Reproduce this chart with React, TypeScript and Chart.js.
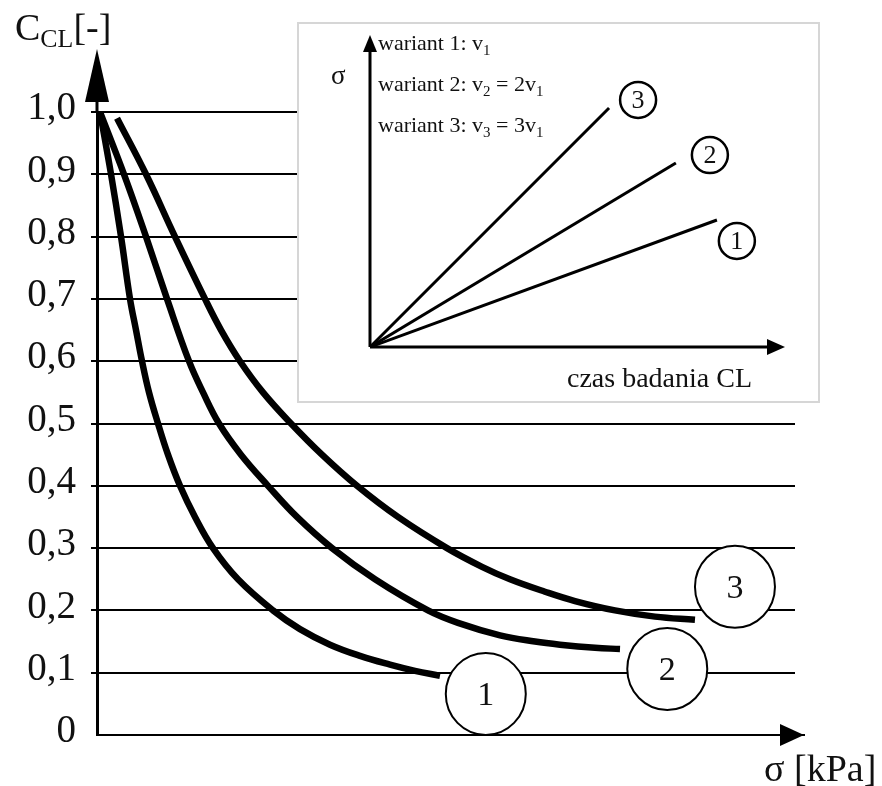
import React, { useEffect, useRef } from "react";
import { Chart, registerables } from "chart.js";

Chart.register(...registerables);

const SERIF = '"Liberation Serif", "Times New Roman", Times, serif';

// ---- main chart data (x: relative sigma 0..100, y: C_CL) ----
const yTickStep = 0.1;
const curve1X = [0.43, 2.01, 3.44, 4.73, 5.59, 6.45, 7.45, 8.74, 10.17, 11.89, 14.04, 16.62, 20.2, 25.21, 29.08, 33.38, 37.68, 41.98, 45.56, 49.14];
const curve1Y = [1.0, 0.9, 0.8, 0.7, 0.65, 0.6, 0.55, 0.5, 0.45, 0.4, 0.35, 0.3, 0.25, 0.2, 0.17, 0.145, 0.127, 0.113, 0.103, 0.095];
const curve2X = [0.43, 3.87, 7.02, 10.03, 13.18, 15.19, 17.48, 20.63, 24.5, 28.65, 33.67, 39.83, 47.42, 51.72, 57.74, 62.75, 66.33, 71.35, 74.93];
const curve2Y = [1.0, 0.9, 0.8, 0.7, 0.6, 0.55, 0.5, 0.45, 0.4, 0.35, 0.3, 0.25, 0.2, 0.18, 0.16, 0.15, 0.145, 0.14, 0.138];
const curve3X = [2.87, 7.02, 11.17, 15.47, 17.77, 20.49, 23.78, 27.79, 32.23, 37.25, 43.12, 50.14, 55.16, 59.17, 64.18, 68.48, 74.21, 79.94, 85.67];
const curve3Y = [0.99, 0.9, 0.8, 0.7, 0.65, 0.6, 0.55, 0.5, 0.45, 0.4, 0.35, 0.3, 0.27, 0.25, 0.23, 0.215, 0.2, 0.19, 0.185];
const curveLabels = ["1", "2", "3"];
const curveLabelX = [55.7, 81.7, 91.4];
const curveLabelY = [0.066, 0.106, 0.238];

// ---- inset data (schematic sigma vs time) ----
const insetLabels = ["1", "2", "3"];
const insetEndX = [83.6, 73.7, 57.6];
const insetEndY = [40.7, 59.0, 76.6];
const insetLabelX = [88.4, 81.9, 64.6];
const insetLabelY = [34.0, 61.5, 79.2];

const toPoints = (xs: number[], ys: number[]) => xs.map((x, i) => ({ x, y: ys[i] }));

const mainDecor = {
  id: "mainDecor",
  afterDatasetsDraw(chart: any) {
    const { ctx, chartArea, scales } = chart;
    const x0 = chartArea.left;
    const y0 = chartArea.bottom;
    ctx.save();
    ctx.fillStyle = "#000";
    ctx.strokeStyle = "#000";
    // y axis extension + arrow
    ctx.lineWidth = 3;
    ctx.beginPath();
    ctx.moveTo(x0, chartArea.top);
    ctx.lineTo(x0, chartArea.top - 14);
    ctx.stroke();
    ctx.beginPath();
    ctx.moveTo(x0, chartArea.top - 63);
    ctx.lineTo(x0 - 12, chartArea.top - 10);
    ctx.lineTo(x0 + 12, chartArea.top - 10);
    ctx.closePath();
    ctx.fill();
    // x axis extension + arrow
    ctx.lineWidth = 2;
    ctx.beginPath();
    ctx.moveTo(chartArea.right, y0);
    ctx.lineTo(chartArea.right + 10, y0);
    ctx.stroke();
    ctx.beginPath();
    ctx.moveTo(chartArea.right + 9, y0);
    ctx.lineTo(chartArea.right - 15, y0 - 11);
    ctx.lineTo(chartArea.right - 15, y0 + 11);
    ctx.closePath();
    ctx.fill();
    // numbered circles
    curveLabels.forEach((lab, i) => {
      const cx = scales.x.getPixelForValue(curveLabelX[i]);
      const cy = scales.y.getPixelForValue(curveLabelY[i]);
      ctx.beginPath();
      ctx.ellipse(cx, cy, 40, 41, 0, 0, Math.PI * 2);
      ctx.fillStyle = "#fff";
      ctx.fill();
      ctx.lineWidth = 2;
      ctx.strokeStyle = "#000";
      ctx.stroke();
      ctx.fillStyle = "#111";
      ctx.font = `34px ${SERIF}`;
      ctx.textAlign = "center";
      ctx.textBaseline = "middle";
      ctx.fillText(lab, cx, cy + 2);
    });
    ctx.restore();
  },
};

const insetDecor = {
  id: "insetDecor",
  afterDatasetsDraw(chart: any) {
    const { ctx, chartArea, scales } = chart;
    const x0 = chartArea.left;
    const y0 = chartArea.bottom;
    ctx.save();
    ctx.fillStyle = "#000";
    ctx.strokeStyle = "#000";
    ctx.lineWidth = 3;
    ctx.beginPath();
    ctx.moveTo(x0, y0);
    ctx.lineTo(x0, chartArea.top + 12);
    ctx.moveTo(x0, y0);
    ctx.lineTo(chartArea.right - 12, y0);
    ctx.stroke();
    ctx.beginPath();
    ctx.moveTo(x0, chartArea.top);
    ctx.lineTo(x0 - 7, chartArea.top + 17);
    ctx.lineTo(x0 + 7, chartArea.top + 17);
    ctx.closePath();
    ctx.fill();
    ctx.beginPath();
    ctx.moveTo(chartArea.right, y0);
    ctx.lineTo(chartArea.right - 18, y0 - 8);
    ctx.lineTo(chartArea.right - 18, y0 + 8);
    ctx.closePath();
    ctx.fill();
    insetLabels.forEach((lab, i) => {
      const cx = scales.x.getPixelForValue(insetLabelX[i]);
      const cy = scales.y.getPixelForValue(insetLabelY[i]);
      ctx.beginPath();
      ctx.arc(cx, cy, 18, 0, Math.PI * 2);
      ctx.fillStyle = "#fff";
      ctx.fill();
      ctx.lineWidth = 2.5;
      ctx.strokeStyle = "#000";
      ctx.stroke();
      ctx.fillStyle = "#111";
      ctx.font = `26px ${SERIF}`;
      ctx.textAlign = "center";
      ctx.textBaseline = "middle";
      ctx.fillText(lab, cx, cy + 1);
    });
    ctx.restore();
  },
};

const Txt = ({ left, top, size, children }: any) => (
  <div
    style={{
      position: "absolute",
      left,
      top,
      fontSize: size,
      lineHeight: 1,
      fontFamily: SERIF,
      color: "#111",
      whiteSpace: "nowrap",
    }}
  >
    {children}
  </div>
);

const Sub = ({ children, drop = "0.35em" }: any) => (
  <span style={{ fontSize: "0.68em", position: "relative", top: drop }}>{children}</span>
);

export default function App() {
  const mainRef = useRef<HTMLCanvasElement | null>(null);
  const insetRef = useRef<HTMLCanvasElement | null>(null);

  useEffect(() => {
    const lineStyle = {
      borderColor: "#000",
      borderWidth: 6.5,
      pointRadius: 0,
      tension: 0.4,
      borderCapStyle: "butt" as const,
      borderJoinStyle: "round" as const,
      fill: false,
    };
    const main = new Chart(mainRef.current as HTMLCanvasElement, {
      type: "line",
      data: {
        datasets: [
          { ...lineStyle, label: "1", data: toPoints(curve1X, curve1Y) },
          { ...lineStyle, label: "2", data: toPoints(curve2X, curve2Y) },
          { ...lineStyle, label: "3", data: toPoints(curve3X, curve3Y) },
        ],
      },
      options: {
        responsive: false,
        animation: false,
        events: [],
        layout: { padding: { left: 0, right: 87, top: 112, bottom: 0 } },
        plugins: { legend: { display: false }, tooltip: { enabled: false } },
        scales: {
          x: {
            type: "linear",
            min: 0,
            max: 100,
            ticks: { display: false },
            grid: { display: false },
            border: { display: true, color: "#000", width: 2 },
            afterFit: (s: any) => {
              s.height = 51;
            },
          },
          y: {
            type: "linear",
            min: 0,
            max: 1,
            ticks: {
              stepSize: yTickStep,
              color: "#111",
              padding: 15,
              labelOffset: -3,
              font: { family: SERIF, size: 39 },
              callback: (v: any) => (Number(v) === 0 ? "0" : Number(v).toFixed(1).replace(".", ",")),
            },
            grid: {
              color: (c: any) => (c.tick && c.tick.value === 0 ? "rgba(0,0,0,0)" : "#000"),
              lineWidth: 2,
              tickLength: 6,
              drawTicks: true,
            },
            border: { display: true, color: "#000", width: 3 },
            afterFit: (s: any) => {
              s.width = 97;
            },
          },
        },
      },
      plugins: [mainDecor],
    });

    const insetStyle = {
      borderColor: "#000",
      borderWidth: 3,
      pointRadius: 0,
      borderCapStyle: "butt" as const,
      fill: false,
    };
    const inset = new Chart(insetRef.current as HTMLCanvasElement, {
      type: "line",
      data: {
        datasets: insetLabels.map((lab, i) => ({
          ...insetStyle,
          label: lab,
          data: [
            { x: 0, y: 0 },
            { x: insetEndX[i], y: insetEndY[i] },
          ],
        })),
      },
      options: {
        responsive: false,
        animation: false,
        events: [],
        layout: { padding: { left: 73, right: 35, top: 13, bottom: 56 } },
        plugins: { legend: { display: false }, tooltip: { enabled: false } },
        scales: {
          x: { type: "linear", min: 0, max: 100, display: false },
          y: { type: "linear", min: 0, max: 100, display: false },
        },
      },
      plugins: [insetDecor],
    });

    return () => {
      main.destroy();
      inset.destroy();
    };
  }, []);

  return (
    <div
      style={{
        position: "absolute",
        left: 0,
        top: 0,
        width: 882,
        height: 786,
        overflow: "hidden",
        background: "#fff",
      }}
    >
      <canvas
        ref={mainRef}
        width={882}
        height={786}
        style={{ position: "absolute", left: 0, top: 0, width: 882, height: 786 }}
      />
      <div
        style={{
          position: "absolute",
          left: 297,
          top: 22,
          width: 523,
          height: 381,
          boxSizing: "border-box",
          border: "2px solid #d6d6d6",
          background: "#fff",
        }}
      />
      <canvas
        ref={insetRef}
        width={523}
        height={381}
        style={{ position: "absolute", left: 297, top: 22, width: 523, height: 381 }}
      />
      <Txt left={15} top={8} size={38}>
        C<Sub drop="0.28em">CL</Sub>[-]
      </Txt>
      <Txt left={764} top={749} size={38}>
        σ [kPa]
      </Txt>
      <Txt left={331} top={62} size={27}>
        σ
      </Txt>
      <Txt left={378} top={32} size={22}>
        wariant 1: v<Sub>1</Sub>
      </Txt>
      <Txt left={378} top={73} size={22}>
        wariant 2: v<Sub>2</Sub> = 2v<Sub>1</Sub>
      </Txt>
      <Txt left={378} top={114} size={22}>
        wariant 3: v<Sub>3</Sub> = 3v<Sub>1</Sub>
      </Txt>
      <Txt left={567} top={364} size={28}>
        czas badania CL
      </Txt>
    </div>
  );
}
